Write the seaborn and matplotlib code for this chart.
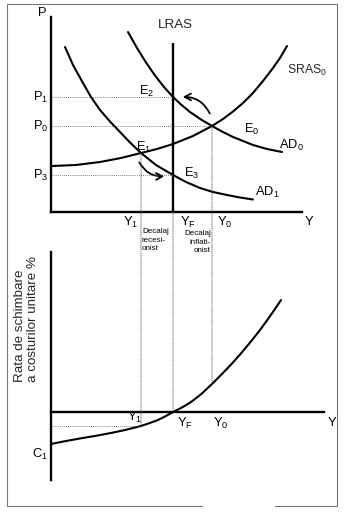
import matplotlib
matplotlib.use("Agg")
import matplotlib.pyplot as plt
import seaborn as sns
import pandas as pd
from matplotlib.patches import FancyArrowPatch, ConnectionPatch
from matplotlib.lines import Line2D

sns.set_style("white")
plt.rcParams["font.family"] = ["Liberation Sans", "DejaVu Sans"]
plt.rcParams["mathtext.default"] = "regular"

# ---- key levels -------------------------------------------------------
Y1, YF, Y0 = 90, 122, 161          # recession output, full employment, boom output
P1, P0, P3 = 115, 86, 37           # price levels
LRAS_TOP = 169
C1 = -32                           # unit cost change at zero output

# ---- curves in the AD/AS panel (output, price) ------------------------
sras_y = [1, 25, 49, 70, 90, 106, 122, 142, 161, 172, 182, 192, 202, 212, 222, 229, 236]
sras_p = [46, 47, 50, 54, 59, 63, 68, 76, 86, 93, 100.5, 109, 119, 131, 144, 154, 166]

ad0_y = [77, 86, 95, 104, 113, 122, 130, 139, 150, 161, 171, 182, 192, 202, 216, 231]
ad0_p = [180, 164, 149.5, 136.5, 125, 115, 107.5, 100, 92.5, 86, 80.5, 75, 71, 67, 63, 60]

ad1_y = [14, 22, 32, 40, 49, 59, 69, 79, 90, 105, 122, 135, 149, 162, 176, 189, 202]
ad1_p = [165, 147, 129, 115, 102, 90.5, 80, 69.5, 59, 47, 37, 30, 24, 20, 17, 14.5, 12.5]

# ---- unit cost curve (output, % change of unit costs) -----------------
cost_y = [0, 15, 30, 45, 60, 75, 90, 98, 107, 115, 122, 131, 140, 150, 161,
          170, 180, 190, 200, 209, 217, 224, 230]
cost_c = [C1, -29, -26.3, -23.8, -21, -17.8, -14, -11.3, -8, -4, 0, 4.5, 10, 17.7, 28,
          37, 47.4, 58.6, 70.6, 82, 93, 103, 112]

W, H = 347, 514
fig = plt.figure(figsize=(W / 100, H / 100), dpi=100)
fig.patch.set_facecolor("white")

def px_axes(left, top, right, bottom):
    return fig.add_axes([left / W, 1 - bottom / H, (right - left) / W, (bottom - top) / H])

top = px_axes(51, 17, 302, 212)
top.set_xlim(0, 251)
top.set_ylim(0, 195)
bot = px_axes(51, 252, 324, 480)
bot.set_xlim(0, 273)
bot.set_ylim(-68, 160)

for ax in (top, bot):
    ax.set_facecolor("none")
    for s in ("top", "right"):
        ax.spines[s].set_visible(False)
    for s in ("left", "bottom"):
        ax.spines[s].set_color("black")
        ax.spines[s].set_linewidth(1.7)
bot.spines["bottom"].set_position(("data", 0))

curve_kw = dict(color="black", linewidth=1.5, legend=False)
dot_kw = dict(color="#555555", linewidth=0.6, linestyle=(0, (1, 1.5)))

# AD/AS curves
sns.lineplot(data=pd.DataFrame({"Y": sras_y, "P": sras_p}), x="Y", y="P", ax=top, **curve_kw)
sns.lineplot(data=pd.DataFrame({"Y": ad0_y, "P": ad0_p}), x="Y", y="P", ax=top, **curve_kw)
sns.lineplot(data=pd.DataFrame({"Y": ad1_y, "P": ad1_p}), x="Y", y="P", ax=top, **curve_kw)
top.vlines(YF, 0, LRAS_TOP, color="black", linewidth=1.7)

# guide lines to the price axis
top.hlines(P1, 0, YF, **dot_kw)
top.hlines(P0, 0, Y0, **dot_kw)
top.hlines(P3, 0, YF, **dot_kw)

# cost curve
sns.lineplot(data=pd.DataFrame({"Y": cost_y, "C": cost_c}), x="Y", y="C", ax=bot, **curve_kw)
bot.hlines(cost_c[6], 0, Y1, **dot_kw)

for ax in (top, bot):
    ax.set_xticks([])
    ax.set_yticks([])
    ax.set_xlabel("")
    ax.set_ylabel("")

# vertical guides running through both panels
for yv, ytop, ybot in ((Y1, sras_p[4], cost_c[6]), (YF, 0, 0), (Y0, P0, cost_c[14])):
    con = ConnectionPatch(xyA=(yv, ytop), coordsA=top.transData,
                          xyB=(yv, ybot), coordsB=bot.transData, **dot_kw)
    fig.add_artist(con)

# adjustment arrows
arrow_kw = dict(arrowstyle="->,head_length=4.5,head_width=2.4", color="black", lw=1.3,
                transform=top.transData, clip_on=False)
top.add_patch(FancyArrowPatch((160, 96), (129, 115), connectionstyle="arc3,rad=0.35", **arrow_kw))
top.add_patch(FancyArrowPatch((87, 52), (116, 36), connectionstyle="arc3,rad=0.35", **arrow_kw))

fs = 9.3
t_kw = dict(fontsize=fs, color="black", clip_on=False)
top.text(-9, 199, "P", ha="center", va="center", **t_kw)
top.text(254, -10, "Y", ha="left", va="center", **t_kw)
top.text(YF + 2, 187, "LRAS", ha="center", va="center", fontsize=9.6, clip_on=False)
top.text(236, 142, "$SRAS_0$", ha="left", va="center", fontsize=8.8, clip_on=False)
top.text(228, 67, "$AD_0$", ha="left", va="center", **t_kw)
top.text(204, 20, "$AD_1$", ha="left", va="center", **t_kw)
top.text(96, 121, "$E_2$", ha="center", va="center", **t_kw)
top.text(201, 83, "$E_0$", ha="center", va="center", **t_kw)
top.text(93, 65, "$E_1$", ha="center", va="center", **t_kw)
top.text(141, 39, "$E_3$", ha="center", va="center", **t_kw)
top.text(-3, P1, "$P_1$", ha="right", va="center", **t_kw)
top.text(-3, P0, "$P_0$", ha="right", va="center", **t_kw)
top.text(-3, P3, "$P_3$", ha="right", va="center", **t_kw)
top.text(Y1 - 3, -10, "$Y_1$", ha="right", va="center", **t_kw)
top.text(YF + 7, -10, "$Y_F$", ha="left", va="center", **t_kw)
top.text(Y0 + 5, -10, "$Y_0$", ha="left", va="center", **t_kw)

gap_kw = dict(fontsize=5.8, color="black", clip_on=False, linespacing=1.3, va="top")
top.text(Y1 + 1, -16, "Decalaj\nrecesi-\nonist", ha="left", multialignment="left", **gap_kw)
top.text(Y0 - 1, -18, "Decalaj\ninflati-\nonist", ha="right", multialignment="right", **gap_kw)

bot.text(Y1 + 1, -5.5, "$Y_1$", ha="right", va="center", **t_kw)
bot.text(YF + 4, -11, "$Y_F$", ha="left", va="center", **t_kw)
bot.text(Y0 + 1, -11, "$Y_0$", ha="left", va="center", **t_kw)
bot.text(281, -11, "Y", ha="center", va="center", **t_kw)
bot.text(-11, -42, "$C_1$", ha="center", va="center", **t_kw)
bot.text(-31, 30, "Rata de schimbare", rotation=90, ha="center", va="bottom",
         fontsize=9.6, clip_on=False)
bot.text(-18, 30, "a costurilor unitare %", rotation=90, ha="center", va="bottom",
         fontsize=9.6, clip_on=False)

# page frame
frame_kw = dict(color="#777777", linewidth=0.8, transform=fig.transFigure)
for (x0, y0), (x1, y1) in [((7, 4), (7, 506)), ((337, 4), (337, 506)),
                           ((7, 4), (337, 4)), ((7, 506), (202, 506)),
                           ((275, 506), (337, 506))]:
    fig.add_artist(Line2D([x0 / W, x1 / W], [1 - y0 / H, 1 - y1 / H], **frame_kw))

fig.savefig("out.png", dpi=100, facecolor="white")
